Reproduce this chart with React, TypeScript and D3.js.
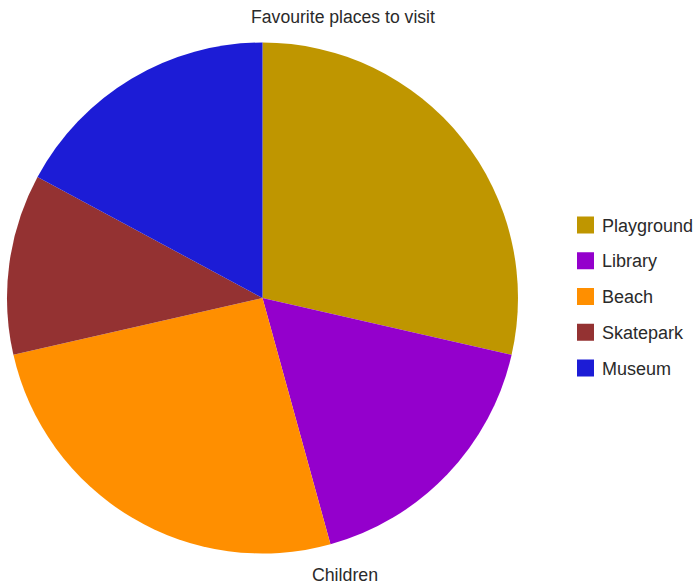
import React from "react";
import * as d3 from "d3";

const categories = ["Playground", "Library", "Beach", "Skatepark", "Museum"];
const values = [10, 6, 9, 4, 6];
const colors = ["#BF9600", "#9400CC", "#FF8F00", "#943232", "#1C1CD6"];
const title = "Favourite places to visit";
const seriesName = "Children";

export default function App() {
  const width = 695;
  const height = 587;
  const cx = 262.5;
  const cy = 298;
  const r = 255.5;

  const data = categories.map((c, i) => ({ name: c, value: values[i], color: colors[i] }));
  const pie = d3.pie<any>().value((d) => d.value).sort(null);
  const arc = d3.arc<any>().innerRadius(0).outerRadius(r);
  const arcs = pie(data);

  const legendY = d3.scalePoint<string>().domain(categories).range([225, 368]);

  return (
    <svg
      width={width}
      height={height}
      style={{ position: "absolute", left: 0, top: 0, fontFamily: "Liberation Sans, Arial, sans-serif" }}
    >
      <rect width={width} height={height} fill="#ffffff" />
      <text x={343} y={23} textAnchor="middle" fontSize={17.6} fill="#2a2a2a">
        {title}
      </text>
      <g transform={`translate(${cx},${cy})`}>
        {arcs.map((a, i) => (
          <path key={i} d={arc(a) as string} fill={a.data.color} />
        ))}
      </g>
      <text x={345} y={581} textAnchor="middle" fontSize={17.8} fill="#2a2a2a">
        {seriesName}
      </text>
      <g>
        {data.map((d) => (
          <g key={d.name} transform={`translate(577,${legendY(d.name)})`}>
            <rect x={0} y={-8.5} width={17} height={17} fill={d.color} />
            <text x={25} y={6.5} fontSize={18} fill="#2a2a2a">
              {d.name}
            </text>
          </g>
        ))}
      </g>
    </svg>
  );
}
